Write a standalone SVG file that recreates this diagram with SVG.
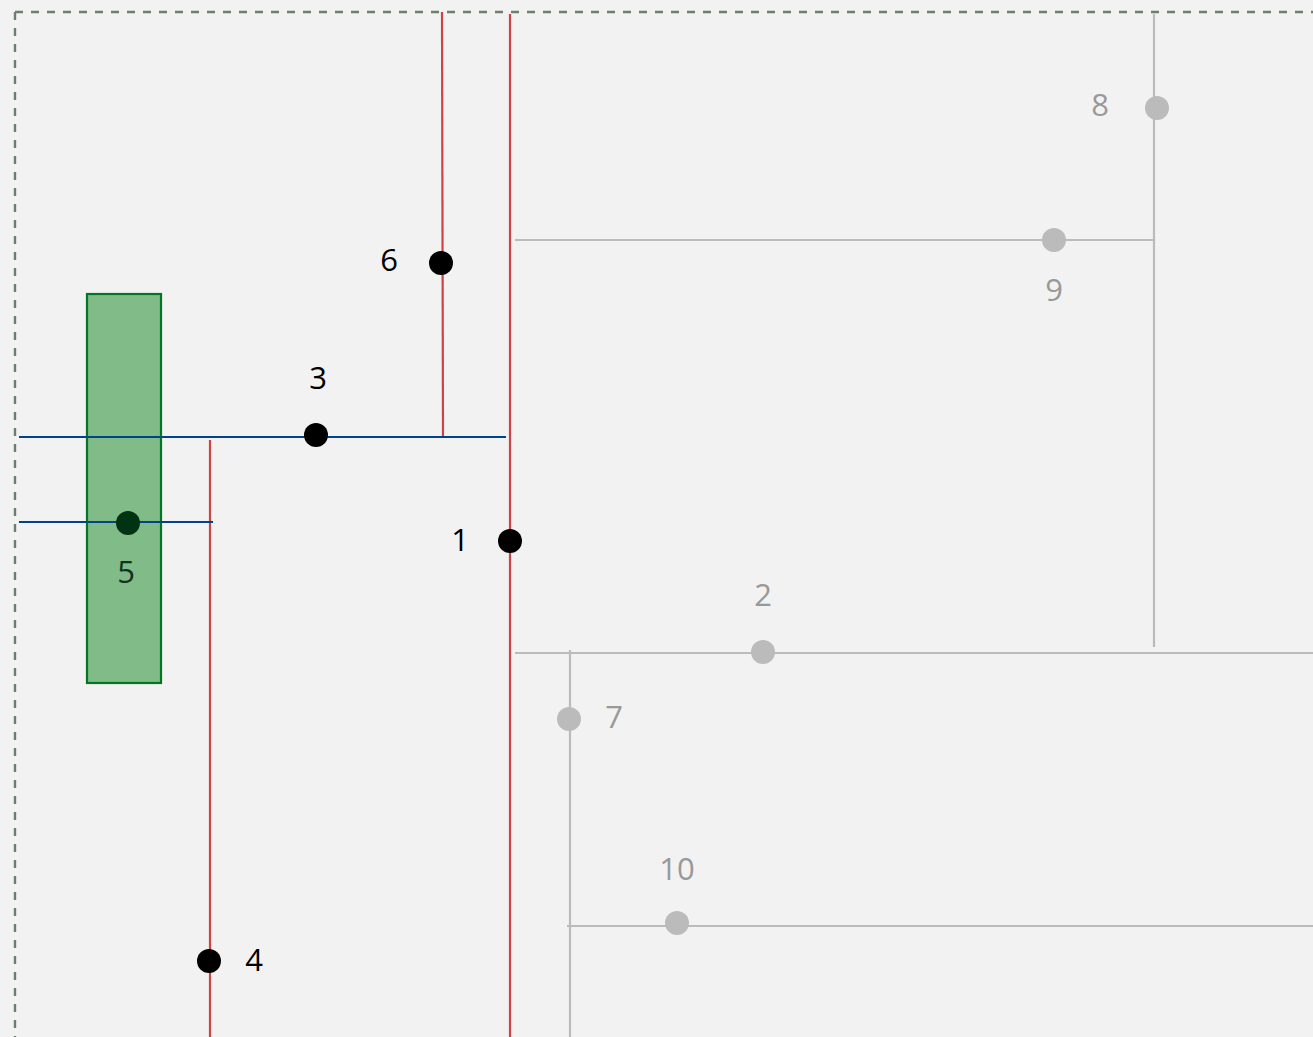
<svg xmlns="http://www.w3.org/2000/svg" width="1313" height="1037" viewBox="0 0 1313 1037">
<style>
.lbl{font-family:"Open Sans","Noto Sans",sans-serif;font-size:31px;text-anchor:middle}
.dk{fill:#000}
.gr{fill:#999}
.red{stroke:#cc4444;stroke-width:2.2;fill:none}
.blue{stroke:#004488;stroke-width:2.2;fill:none}
.grey{stroke:#bbbbbb;stroke-width:2.2;fill:none}
</style>
<rect x="0" y="0" width="1313" height="1037" fill="#f2f2f2"/>
<g id="frame">
<path d="M15,12 H1313 M15,12 V1037" stroke="#6e7e6e" stroke-width="2.4" stroke-dasharray="8,8" fill="none"/>
</g>
<g id="region5">
<rect x="87" y="294" width="74" height="389" fill="#80bb88" stroke="#007722" stroke-width="2.2"/>
</g>
<g id="connectors">
<line class="grey" x1="515" y1="240" x2="1155" y2="240"/>
<line class="grey" x1="1154" y1="14" x2="1154" y2="647"/>
<line class="grey" x1="515" y1="653" x2="1313" y2="653"/>
<line class="grey" x1="570" y1="650" x2="570" y2="1037"/>
<line class="grey" x1="567" y1="926" x2="1313" y2="926"/>
<line class="red" x1="442" y1="12" x2="443" y2="437"/>
<line class="red" x1="510" y1="14" x2="510" y2="1037"/>
<line class="red" x1="210" y1="440" x2="210" y2="1037"/>
<line class="blue" x1="19" y1="437" x2="506" y2="437"/>
<line class="blue" x1="19" y1="522" x2="213" y2="522"/>
</g>
<g id="n1"><circle cx="510" cy="541" r="12" fill="#000"/><text class="lbl dk" x="460" y="551">1</text></g>
<g id="n2"><circle cx="763" cy="652" r="12" fill="#bbbbbb"/><text class="lbl gr" x="763" y="606">2</text></g>
<g id="n3"><circle cx="316" cy="435" r="12" fill="#000"/><text class="lbl dk" x="318" y="389">3</text></g>
<g id="n4"><circle cx="209" cy="961" r="12" fill="#000"/><text class="lbl dk" x="254" y="971">4</text></g>
<g id="n5"><circle cx="128" cy="523" r="12" fill="#003311"/><text class="lbl" fill="#113322" x="126" y="583">5</text></g>
<g id="n6"><circle cx="441" cy="263" r="12" fill="#000"/><text class="lbl dk" x="389" y="271">6</text></g>
<g id="n7"><circle cx="569" cy="719" r="12" fill="#bbbbbb"/><text class="lbl gr" x="614" y="728">7</text></g>
<g id="n8"><circle cx="1157" cy="108" r="12" fill="#bbbbbb"/><text class="lbl gr" x="1100" y="116">8</text></g>
<g id="n9"><circle cx="1054" cy="240" r="12" fill="#bbbbbb"/><text class="lbl gr" x="1054" y="301">9</text></g>
<g id="n10"><circle cx="677" cy="923" r="12" fill="#bbbbbb"/><text class="lbl gr" x="677" y="880">10</text></g>
</svg>
